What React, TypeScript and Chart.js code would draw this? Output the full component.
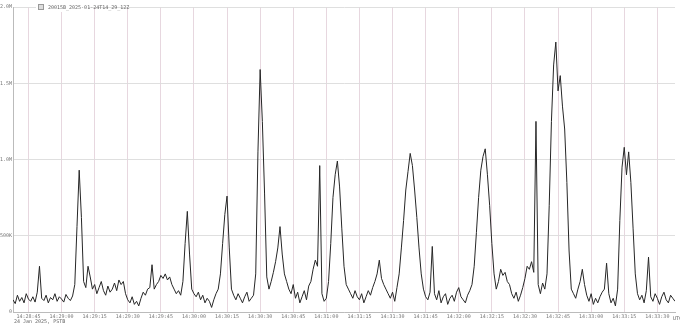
import React, { useEffect, useRef } from "react";
import { Chart, registerables } from "chart.js";

Chart.register(...registerables);

const seriesName = "20015B_2025-01-24T14_29_12Z";
const dateLabel = "24 Jan 2025, PSTB";
const startSeconds = 14 * 3600 + 28 * 60 + 38; // 14:28:38
const yTicks = [0, 500, 1000, 1500, 2000];
const yTickLabels = ["0", "500K", "1.0M", "1.5M", "2.0M"];

// one value per second, in thousands
const values = [
  80, 55, 110, 70, 95, 60, 120, 85, 70, 100, 65, 130,
  300, 90,
  75, 110, 60, 95, 80, 120, 70, 100, 85, 65, 115, 90, 75, 105,
  180, 560, 930, 620, 200, 160, 300, 230, 150,
  180, 120, 160, 200, 140, 110, 170, 130, 150, 190, 140,
  210, 180, 200,
  120, 80, 60, 100, 50, 70, 40, 90,
  130, 110, 150, 160,
  310, 150,
  180, 200, 240, 220, 250, 210, 230, 180, 150, 120, 140, 110,
  200, 450, 660, 380, 150,
  120, 100, 130, 80, 110, 60, 90, 70, 30, 80, 120, 150,
  250, 450, 640, 760, 420, 150,
  110, 80, 120, 90, 60, 100, 130, 70, 90,
  110, 250, 1050, 1590, 1250, 780, 230, 150,
  200, 260, 330, 420, 560, 380, 250,
  200, 150, 120, 180, 90, 130, 60, 100, 140, 80, 170, 200,
  280, 340, 300,
  960, 120, 70, 90,
  200, 450, 750, 900, 990, 820, 550, 300, 180,
  150, 120, 90, 140, 100, 80, 120, 60, 100, 140, 110, 160, 200,
  250, 340, 220, 180, 150,
  120, 90, 130, 70, 160,
  250, 420, 600, 800, 920, 1040, 960, 800, 620, 420, 250, 150,
  100, 80, 130,
  430, 120,
  80, 140, 60, 100, 120, 50, 90, 110, 70, 130, 160, 100, 80, 60, 110, 140, 180,
  300, 520, 750, 930, 1020, 1070, 900, 700, 450, 250, 150,
  200, 280, 240, 260, 200, 180, 120,
  90, 130, 70, 110, 160, 220, 300, 280, 330, 260,
  1250, 180, 120, 190, 150,
  250, 700, 1250, 1620, 1770, 1450, 1550, 1350, 1200, 850, 400, 150,
  120, 90, 150, 200, 280,
  180,
  110, 70, 120, 50, 90, 60, 100, 130, 150,
  320, 120, 60, 90, 40,
  150, 600, 950, 1080, 900, 1050, 850, 550, 250, 120,
  80, 110, 60, 140, 360, 100, 70, 120, 90, 50, 100, 130, 80, 60, 110, 90, 70,
];

const pad = (n: number) => String(n).padStart(2, "0");
const fmtTime = (s: number) =>
  `${pad(Math.floor(s / 3600))}:${pad(Math.floor((s % 3600) / 60))}:${pad(s % 60)}`;

const FONT = "'DejaVu Sans Mono', monospace";

export default function App() {
  const ref = useRef<HTMLCanvasElement | null>(null);

  useEffect(() => {
    document.body.style.margin = "0";
    const canvas = ref.current;
    if (!canvas) return;
    const points = values.map((v, i) => ({ x: startSeconds + i, y: v }));

    const overlay = {
      id: "overlay",
      afterDraw(chart: any) {
        const ctx = chart.ctx;
        const area = chart.chartArea;
        ctx.save();
        // legend
        ctx.fillStyle = "#ffffff";
        ctx.fillRect(36, 2, 52, 10);
        ctx.strokeStyle = "#999";
        ctx.lineWidth = 1;
        ctx.fillStyle = "#ddd";
        ctx.fillRect(38.5, 4.5, 5, 5);
        ctx.strokeRect(38.5, 4.5, 5, 5);
        ctx.fillStyle = "#666";
        ctx.font = `5px ${FONT}`;
        ctx.textBaseline = "middle";
        ctx.textAlign = "left";
        ctx.fillText(seriesName, 48, 7.5);
        // date label
        ctx.fillStyle = "#666";
        ctx.fillText(dateLabel, 14, 322);
        // right-end unit
        ctx.fillText("UTC", area.right - 2, area.bottom + 7);
        ctx.restore();
      },
    };

    const chart = new Chart(canvas, {
      type: "line",
      data: {
        datasets: [
          {
            label: seriesName,
            data: points,
            borderColor: "#262626",
            borderWidth: 1,
            pointRadius: 0,
            tension: 0,
            fill: false,
          },
        ],
      },
      options: {
        animation: false,
        responsive: false,
        layout: { padding: { top: 7, right: 5, left: 0, bottom: 0 } },
        plugins: { legend: { display: false }, tooltip: { enabled: false } },
        scales: {
          x: {
            type: "linear",
            min: startSeconds,
            max: startSeconds + values.length - 1,
            afterBuildTicks: (scale: any) => {
              const t = [];
              for (let s = Math.ceil(scale.min / 15) * 15; s <= scale.max; s += 15) t.push({ value: s });
              scale.ticks = t;
            },
            afterFit: (scale: any) => {
              scale.height = 16;
            },
            ticks: {
              autoSkip: false,
              maxRotation: 0,
              padding: 2,
              color: "#777",
              font: { size: 5, family: FONT },
              callback: (v: any) => fmtTime(Number(v)),
            },
            grid: { color: "rgba(225,205,215,0.8)", lineWidth: 1, drawTicks: false },
            border: { color: "#bbb" },
          },
          y: {
            min: 0,
            max: 2000,
            afterBuildTicks: (scale: any) => {
              scale.ticks = yTicks.map((v) => ({ value: v }));
            },
            afterFit: (scale: any) => {
              scale.width = 13;
            },
            ticks: {
              padding: 1,
              color: "#777",
              font: { size: 5, family: FONT },
              callback: (v: any) => yTickLabels[yTicks.indexOf(Number(v))] ?? "",
            },
            grid: { color: "rgba(220,220,220,0.9)", lineWidth: 1, drawTicks: false },
            border: { color: "#bbb" },
          },
        },
      },
      plugins: [overlay],
    } as any);
    return () => chart.destroy();
  }, []);

  return (
    <div style={{ position: "fixed", left: 0, top: 0, width: 680, height: 328, background: "#fff" }}>
      <canvas ref={ref} width={680} height={328} style={{ width: 680, height: 328 }} />
    </div>
  );
}
